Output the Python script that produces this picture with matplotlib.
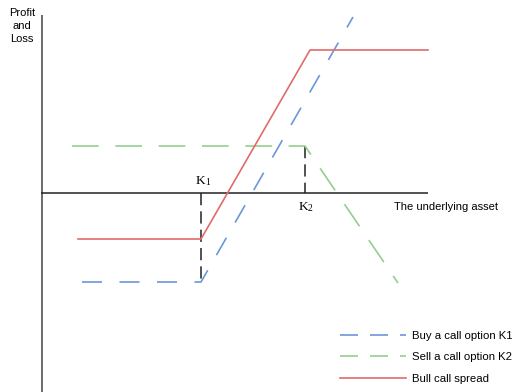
import matplotlib
matplotlib.use("Agg")
import matplotlib.pyplot as plt
from matplotlib.lines import Line2D

# Strike prices and payoff series (price units, P&L units)
K1 = 159
K2 = 263
buy_x = [40, 159, 311]
buy_y = [-89, -89, 176]
sell_x = [30, 263, 356]
sell_y = [47, 47, -90]
spread_x = [36, 159, 268, 386]
spread_y = [-46, -46, 143, 143]

labels = ["Buy a call option K1", "Sell a call option K2", "Bull call spread"]
BLUE = "#6b97d9"
GREEN = "#93cf8e"
RED = "#e06b6b"

plt.rcParams['font.family'] = ['Liberation Sans', 'DejaVu Sans']

fig = plt.figure(figsize=(5.12, 3.92), dpi=100)
ax = fig.add_axes([0, 0, 1, 1])
ax.set_xlim(-42, 470)
ax.set_ylim(-199, 193)
ax.axis('off')

# axes of the diagram
ax.plot([0, 0], [178, -205], color="#606060", lw=1.3, solid_capstyle='butt')
ax.plot([-1, 386], [0, 0], color="#222222", lw=1.1, solid_capstyle='butt')

# strike markers
ax.plot([K1, K1], [0, buy_y[0]], color="#222222", lw=1.1, dashes=(8, 4))
ax.plot([K2, K2], [sell_y[0], 0], color="#222222", lw=1.1, dashes=(8, 4))

l1, = ax.plot(buy_x, buy_y, color=BLUE, lw=1.2, dashes=(12, 10.5))
l2, = ax.plot(sell_x, sell_y, color=GREEN, lw=1.2, dashes=(16, 10))
l3, = ax.plot(spread_x, spread_y, color=RED, lw=1.2)

# legend
h1 = Line2D([], [], color=BLUE, lw=1.2, dashes=(10.8, 7.2))
h2 = Line2D([], [], color=GREEN, lw=1.2, dashes=(10.8, 7.2))
h3 = Line2D([], [], color=RED, lw=1.2)
fig.legend([h1, h2, h3], labels, loc='upper left',
           bbox_to_anchor=(340 / 512, 1 - 331 / 392), frameon=False,
           fontsize=8.2, handlelength=5.8, handletextpad=0.5,
           labelspacing=1.0, borderpad=0, borderaxespad=0)

# strike labels
serif = ['Liberation Serif', 'DejaVu Serif']
ax.text(K1 - 5, 6, "K", family=serif, fontsize=9.5, ha='left', va='bottom')
ax.text(K1 + 4, 6, "1", family=serif, fontsize=7, ha='left', va='bottom')
ax.text(K2 - 6, -20, "K", family=serif, fontsize=9.5, ha='left', va='bottom')
ax.text(K2 + 3, -20, "2", family=serif, fontsize=7, ha='left', va='bottom')

ax.text(352, -14, "The underlying asset", fontsize=8, ha='left', va='center')
ax.text(-20, 167, "Profit\nand\nLoss", fontsize=8, ha='center', va='center',
        linespacing=1.4)

fig.savefig("out.png", dpi=100)
